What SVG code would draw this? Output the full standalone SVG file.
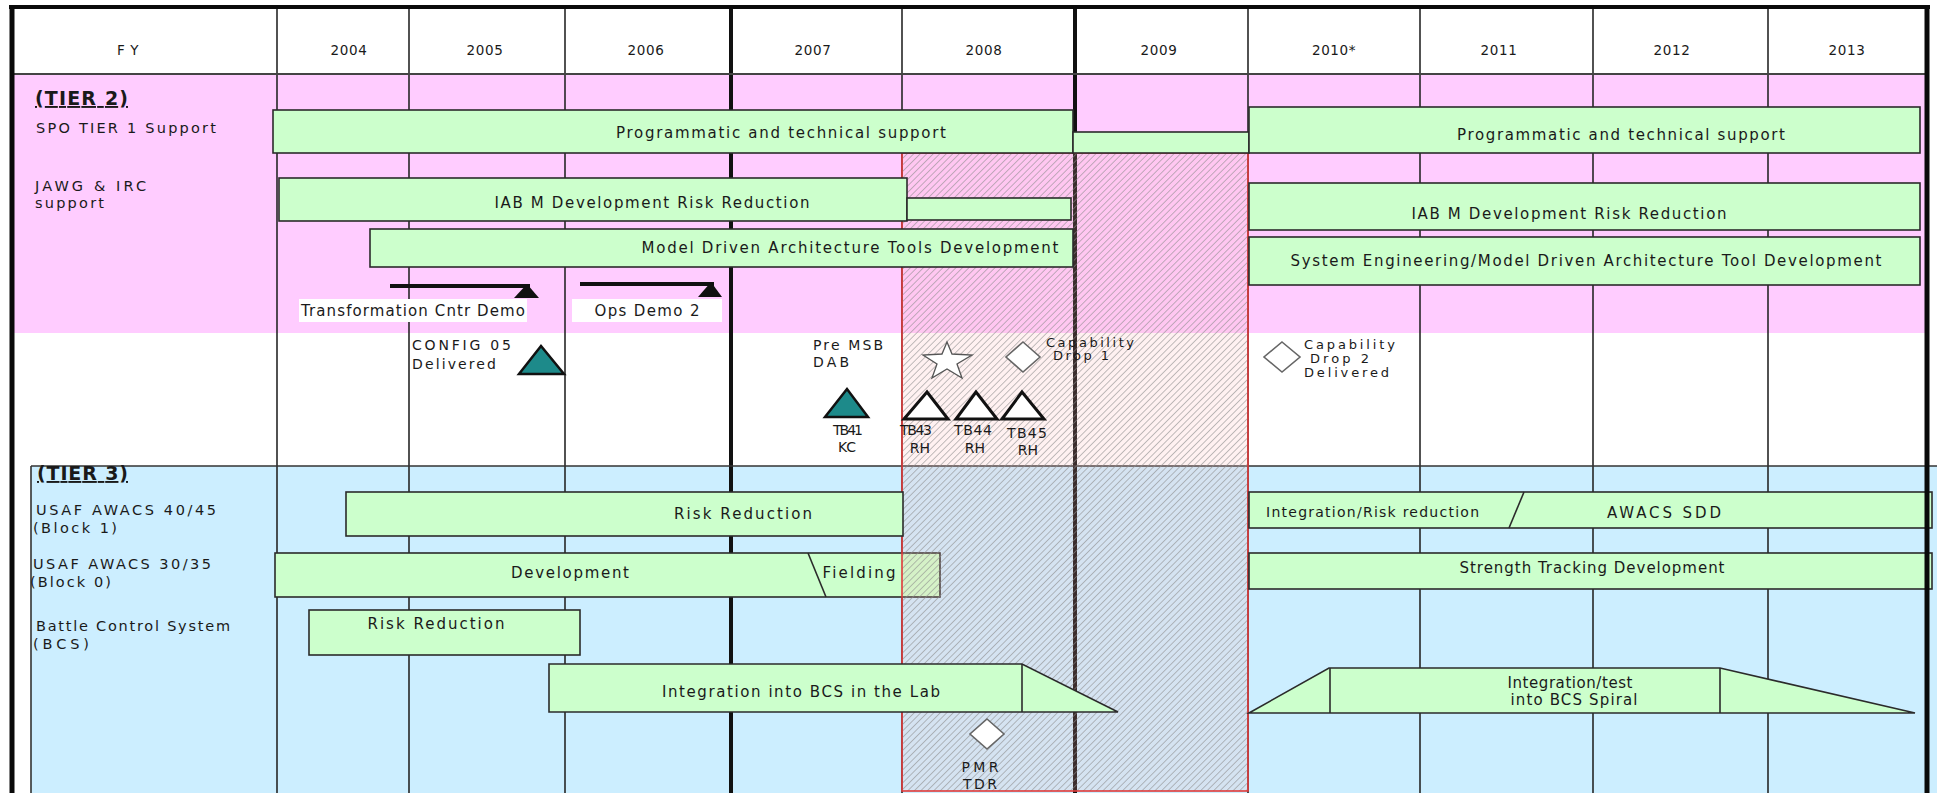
<svg xmlns="http://www.w3.org/2000/svg" width="1937" height="793" viewBox="0 0 1937 793">
  <defs>
    <pattern id="hatch" patternUnits="userSpaceOnUse" width="4.6" height="4.6" patternTransform="rotate(45)">
      <line x1="0" y1="0" x2="0" y2="4.6" stroke="#8c8c8c" stroke-width="1.1"/>
    </pattern>
    <style>
      text { font-family: "DejaVu Sans", "Liberation Sans", sans-serif; fill: #1a1a1a; }
      .hdr { font-size: 13.5px; text-anchor: middle; letter-spacing: 0.6px; }
      .lbl { font-size: 14.5px; }
      .tier { font-size: 19px; font-weight: bold; text-decoration: underline; }
      .bt { font-size: 15px; text-anchor: middle; }
      .ms { font-size: 14px; }
      .msc { font-size: 14px; text-anchor: middle; }
      .sm { font-size: 13px; }
      .bar { fill: #ccffcc; stroke: #2b2b2b; stroke-width: 1.6; }
      .col { stroke: #262626; stroke-width: 1.6; }
      .colb { stroke: #111; stroke-width: 4; }
      .tri { fill: #1d8a8a; stroke: #111; stroke-width: 2.5; stroke-linejoin: miter; }
      .wtri { fill: #ffffff; stroke: #111; stroke-width: 3; stroke-linejoin: miter; }
      .dia { fill: #ffffff; stroke: #666; stroke-width: 1.6; }
      .box { fill: #ffffff; }
      .div { stroke: #2b2b2b; stroke-width: 1.6; }
    </style>
  </defs>

  <!-- page -->
  <rect x="0" y="0" width="1937" height="793" fill="#ffffff"/>

  <!-- band backgrounds -->
  <rect x="12" y="74" width="1915" height="259" fill="#ffccff"/>
  <rect x="31" y="466" width="1906" height="327" fill="#cceeff"/>

  <!-- year grid -->
  <g id="grid">
    <line class="col" x1="277" y1="8" x2="277" y2="793"/>
    <line class="col" x1="409" y1="8" x2="409" y2="793"/>
    <line class="col" x1="565" y1="8" x2="565" y2="793" stroke="#444"/>
    <line class="colb" x1="731" y1="8" x2="731" y2="793"/>
    <line class="col" x1="902" y1="8" x2="902" y2="793"/>
    <line class="colb" x1="1075" y1="8" x2="1075" y2="793"/>
    <line class="col" x1="1248" y1="8" x2="1248" y2="793"/>
    <line class="col" x1="1420" y1="8" x2="1420" y2="793"/>
    <line class="col" x1="1593" y1="8" x2="1593" y2="793"/>
    <line class="col" x1="1768" y1="8" x2="1768" y2="793"/>
    <line x1="12" y1="74" x2="1927" y2="74" stroke="#444" stroke-width="2"/>
    <line x1="31" y1="466" x2="1937" y2="466" stroke="#333" stroke-width="1.6"/>
    <line x1="31" y1="466" x2="31" y2="793" stroke="#333" stroke-width="1.6"/>
  </g>

  <!-- header row -->
  <g id="header">
    <text class="hdr" x="128" y="55">F Y</text>
    <text class="hdr" x="349" y="55">2004</text>
    <text class="hdr" x="485" y="55">2005</text>
    <text class="hdr" x="646" y="55">2006</text>
    <text class="hdr" x="813" y="55">2007</text>
    <text class="hdr" x="984" y="55">2008</text>
    <text class="hdr" x="1159" y="55">2009</text>
    <text class="hdr" x="1334" y="55">2010*</text>
    <text class="hdr" x="1499" y="55">2011</text>
    <text class="hdr" x="1672" y="55">2012</text>
    <text class="hdr" x="1847" y="55">2013</text>
  </g>

  <!-- row labels -->
  <g id="labels">
    <text class="tier" x="35" y="105" textLength="93" lengthAdjust="spacing">(TIER 2)</text>
    <text class="lbl" x="36" y="133" textLength="180" lengthAdjust="spacing">SPO TIER 1 Support</text>
    <text class="lbl" x="35" y="191" textLength="111" lengthAdjust="spacing">JAWG &amp; IRC</text>
    <text class="lbl" x="35" y="208" textLength="69" lengthAdjust="spacing">support</text>
    <text class="tier" x="37" y="480" textLength="91" lengthAdjust="spacing">(TIER 3)</text>
    <text class="lbl" x="36" y="515" textLength="180" lengthAdjust="spacing">USAF  AWACS 40/45</text>
    <text class="lbl" x="33" y="533" textLength="84" lengthAdjust="spacing">(Block 1)</text>
    <text class="lbl" x="33" y="569" textLength="178" lengthAdjust="spacing">USAF  AWACS 30/35</text>
    <text class="lbl" x="30" y="587" textLength="81" lengthAdjust="spacing">(Block 0)</text>
    <text class="lbl" x="36" y="631" textLength="194" lengthAdjust="spacing">Battle Control System</text>
    <text class="lbl" x="33" y="649" textLength="56" lengthAdjust="spacing">(BCS)</text>
  </g>

  <!-- Block 0 development / fielding (sits under the 2008-2009 hatch) -->
  <g id="awacs3035-dev">
    <rect class="bar" x="275" y="553" width="665" height="44"/>
    <line class="div" x1="808" y1="553" x2="826" y2="597"/>
    <text class="bt" x="570" y="578" textLength="118" lengthAdjust="spacing">Development</text>
    <text class="bt" x="859" y="578" textLength="73" lengthAdjust="spacing">Fielding</text>
  </g>

  <!-- 2008-2009 hatched window -->
  <g id="window-2008-2009">
    <rect x="902" y="153" width="346" height="638" fill="#ffb4b4" fill-opacity="0.18"/>
    <rect x="902" y="153" width="346" height="638" fill="url(#hatch)" stroke="#e03a3a" stroke-width="1.6"/>
  </g>

  <!-- tier 2 bars -->
  <g id="spo-support-a">
    <rect class="bar" x="273" y="110" width="800" height="43"/>
    <text class="bt" x="781" y="138" textLength="330" lengthAdjust="spacing">Programmatic and technical support</text>
  </g>
  <g id="spo-support-gap">
    <rect class="bar" x="1073" y="132" width="176" height="21"/>
  </g>
  <g id="spo-support-b">
    <rect class="bar" x="1249" y="107" width="671" height="46"/>
    <text class="bt" x="1621" y="140" textLength="328" lengthAdjust="spacing">Programmatic and technical support</text>
  </g>
  <g id="iabm-a">
    <rect class="bar" x="279" y="178" width="628" height="43"/>
    <text class="bt" x="652" y="208" textLength="315" lengthAdjust="spacing">IAB M Development Risk Reduction</text>
  </g>
  <g id="iabm-gap">
    <rect class="bar" x="907" y="198" width="164" height="22"/>
  </g>
  <g id="iabm-b">
    <rect class="bar" x="1249" y="183" width="671" height="47"/>
    <text class="bt" x="1569" y="219" textLength="315" lengthAdjust="spacing">IAB M Development Risk Reduction</text>
  </g>
  <g id="mda-tools">
    <rect class="bar" x="370" y="229" width="703" height="38"/>
    <text class="bt" x="850" y="253" textLength="417" lengthAdjust="spacing">Model Driven Architecture Tools Development</text>
  </g>
  <g id="se-mda-tools">
    <rect class="bar" x="1249" y="237" width="671" height="48"/>
    <text class="bt" x="1586" y="266" textLength="591" lengthAdjust="spacing">System Engineering/Model Driven Architecture Tool Development</text>
  </g>

  <!-- demo markers -->
  <g id="connectors">
    <line x1="390" y1="286" x2="530" y2="286" stroke="#111" stroke-width="4"/>
    <polygon points="527,284 514,298 539,298" fill="#111"/>
    <line x1="580" y1="284" x2="714" y2="284" stroke="#111" stroke-width="4"/>
    <polygon points="711,282 698,297 722,297" fill="#111"/>
  </g>
  <g id="transformation-demo">
    <rect class="box" x="299" y="299" width="228" height="23"/>
    <text class="bt" x="413" y="316" textLength="224" lengthAdjust="spacing">Transformation Cntr Demo</text>
  </g>
  <g id="ops-demo-2">
    <rect class="box" x="572" y="299" width="150" height="23"/>
    <text class="bt" x="647" y="316" textLength="105" lengthAdjust="spacing">Ops Demo 2</text>
  </g>

  <!-- milestones -->
  <g id="config05">
    <text class="ms" x="412" y="350" textLength="99" lengthAdjust="spacing">CONFIG 05</text>
    <text class="ms" x="412" y="369" textLength="84" lengthAdjust="spacing">Delivered</text>
    <polygon class="tri" points="541,346 519,374 564,374"/>
  </g>
  <g id="pre-msb-dab">
    <text class="ms" x="813" y="350" textLength="70" lengthAdjust="spacing">Pre MSB</text>
    <text class="ms" x="813" y="367" textLength="36" lengthAdjust="spacing">DAB</text>
    <polygon points="947,342 952,354 972,355 957,364 962,378 947,369 932,378 937,364 923,355 942,354" fill="#ffffff" stroke="#555" stroke-width="1.3"/>
  </g>
  <g id="tb41">
    <polygon class="tri" points="847,389 825,417 868,417"/>
    <text class="msc" x="848" y="435" textLength="30" lengthAdjust="spacing">TB41</text>
    <text class="msc" x="847" y="452">KC</text>
  </g>
  <g id="tb43">
    <polygon class="wtri" points="927,392 904,419 948,419"/>
    <text class="msc" x="916" y="435" fill="#444" textLength="32" lengthAdjust="spacing">TB43</text>
    <text class="msc" x="920" y="453" fill="#444">RH</text>
  </g>
  <g id="tb44">
    <polygon class="wtri" points="976,392 956,419 997,419"/>
    <text class="msc" x="973" y="435" fill="#444" textLength="38" lengthAdjust="spacing">TB44</text>
    <text class="msc" x="975" y="453" fill="#444">RH</text>
  </g>
  <g id="tb45">
    <polygon class="wtri" points="1022,392 1002,419 1044,419"/>
    <text class="msc" x="1027" y="438" fill="#444" textLength="40" lengthAdjust="spacing">TB45</text>
    <text class="msc" x="1028" y="455" fill="#444">RH</text>
  </g>
  <g id="capability-drop-1">
    <polygon class="dia" points="1023,342 1040,357 1023,372 1006,357"/>
    <text class="sm" x="1046" y="347" textLength="88" lengthAdjust="spacing">Capability</text>
    <text class="sm" x="1053" y="360" textLength="56" lengthAdjust="spacing">Drop 1</text>
  </g>
  <g id="capability-drop-2">
    <polygon class="dia" points="1282,342 1300,357 1282,372 1264,357"/>
    <text class="sm" x="1304" y="349" textLength="91" lengthAdjust="spacing">Capability</text>
    <text class="sm" x="1310" y="363" textLength="59" lengthAdjust="spacing">Drop 2</text>
    <text class="sm" x="1304" y="377" textLength="85" lengthAdjust="spacing">Delivered</text>
  </g>

  <!-- tier 3 bars -->
  <g id="awacs4045-risk">
    <rect class="bar" x="346" y="492" width="557" height="44"/>
    <text class="bt" x="743" y="519" textLength="138" lengthAdjust="spacing">Risk Reduction</text>
  </g>
  <g id="bcs-risk">
    <rect class="bar" x="309" y="610" width="271" height="45"/>
    <text class="bt" x="436" y="629" textLength="137" lengthAdjust="spacing">Risk Reduction</text>
  </g>
  <g id="bcs-lab">
    <polygon class="bar" points="549,664 1022,664 1118,712 549,712"/>
    <line class="div" x1="1022" y1="664" x2="1022" y2="712"/>
    <text class="bt" x="801" y="697" textLength="278" lengthAdjust="spacing">Integration into BCS in the Lab</text>
  </g>
  <g id="pmr-tdr">
    <polygon class="dia" points="987,719 1004,734 987,749 970,734"/>
    <text class="msc" x="980" y="772" fill="#444" textLength="37" lengthAdjust="spacing">PMR</text>
    <text class="msc" x="980" y="789" fill="#444" textLength="34" lengthAdjust="spacing">TDR</text>
  </g>
  <g id="awacs4045-sdd">
    <rect class="bar" x="1249" y="492" width="683" height="36"/>
    <line class="div" x1="1524" y1="492" x2="1509" y2="528"/>
    <text class="ms" x="1266" y="517" textLength="213" lengthAdjust="spacing">Integration/Risk reduction</text>
    <text class="bt" x="1664" y="518" textLength="114" lengthAdjust="spacing">AWACS SDD</text>
  </g>
  <g id="strength-tracking">
    <rect class="bar" x="1249" y="553" width="683" height="36"/>
    <text class="bt" x="1592" y="573" textLength="265" lengthAdjust="spacing">Strength Tracking Development</text>
  </g>
  <g id="bcs-spiral">
    <polygon class="bar" points="1249,713 1329,668 1720,668 1915,713"/>
    <line class="div" x1="1330" y1="668" x2="1330" y2="713"/>
    <line class="div" x1="1720" y1="668" x2="1720" y2="713"/>
    <text class="bt" x="1570" y="688" textLength="125" lengthAdjust="spacing">Integration/test</text>
    <text class="bt" x="1574" y="705" textLength="127" lengthAdjust="spacing">into BCS Spiral</text>
  </g>

  <!-- outer frame -->
  <g id="frame" stroke="#0a0a0a" fill="none">
    <line x1="9" y1="7" x2="1930" y2="7" stroke-width="4"/>
    <line x1="12" y1="5" x2="12" y2="793" stroke-width="5"/>
    <line x1="1927" y1="5" x2="1927" y2="793" stroke-width="5"/>
  </g>
</svg>
